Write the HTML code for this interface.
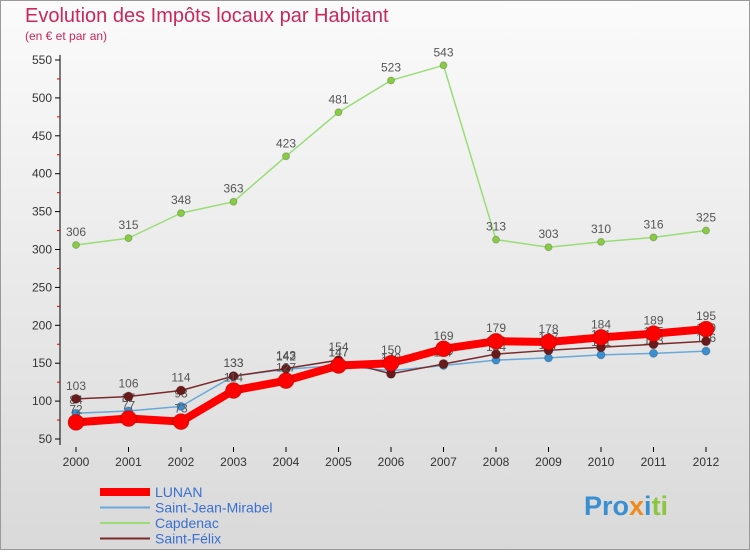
<!DOCTYPE html>
<html><head><meta charset="utf-8"><style>
body{margin:0;width:750px;height:550px;overflow:hidden;font-family:"Liberation Sans",sans-serif}
</style></head><body>
<svg width="750" height="550" xmlns="http://www.w3.org/2000/svg">
<defs><linearGradient id="bg" x1="0" y1="0" x2="0" y2="1"><stop offset="0" stop-color="#fbfbfb"/><stop offset="1" stop-color="#d9d9d9"/></linearGradient></defs>
<rect x="0.5" y="0.5" width="749" height="549" fill="url(#bg)" stroke="#999"/>
<text x="25" y="22" font-size="20" fill="#c8285a">Evolution des Impôts locaux par Habitant</text>
<text x="25" y="40" font-size="12" fill="#c8285a">(en € et par an)</text>
<g id="axes"></g><g id="series"></g><g id="legend"></g>
<text x="584" y="515" font-size="27" font-weight="bold"><tspan fill="#3a8fd0">Pro</tspan><tspan fill="#f08a1c">x</tspan><tspan fill="#3a8fd0">i</tspan><tspan fill="#8cc63f">ti</tspan></text>
</svg>
<script>
const years=[2000,2001,2002,2003,2004,2005,2006,2007,2008,2009,2010,2011,2012];
const yTicks=[50,100,150,200,250,300,350,400,450,500,550];
const lunan=[72,77,73,114,127,147,150,169,179,178,184,189,195];
const sjm=[84,87,93,133,142,147,140,147,154,157,161,163,166];
const capdenac=[306,315,348,363,423,481,523,543,313,303,310,316,325];
const sfelix=[103,106,114,133,143,154,136,149,162,167,171,175,179];
const NS="http://www.w3.org/2000/svg";
const X=i=>76+i*52.5, Y=v=>439-(v-50)*0.758;
function mk(t,a,p){const e=document.createElementNS(NS,t);for(const k in a)e.setAttribute(k,a[k]);p.appendChild(e);return e;}
const ax=document.getElementById('axes');
mk('line',{x1:60,y1:55,x2:60,y2:445,stroke:'#000'},ax);
yTicks.forEach(v=>{const y=Y(v);
mk('line',{x1:55,y1:y,x2:60,y2:y,stroke:'#000'},ax);
if(v<550)mk('line',{x1:57,y1:Y(v+25),x2:60,y2:Y(v+25),stroke:'#d00'},ax);
const t=mk('text',{x:52,y:y+4,'text-anchor':'end','font-size':12,fill:'#333'},ax);t.textContent=v;
});
years.forEach((yr,i)=>{mk('line',{x1:X(i),y1:447,x2:X(i),y2:452,stroke:'#000'},ax);
const t=mk('text',{x:X(i),y:466,'text-anchor':'middle','font-size':12,fill:'#333'},ax);t.textContent=yr;
});
const sg=document.getElementById('series');
const defs=[
{name:'Capdenac',d:capdenac,c:'#99dd77',w:1.5,r:3.5,fc:'#88cc44'},
{name:'Saint-Jean-Mirabel',d:sjm,c:'#6aa8d8',w:1.5,r:4,fc:'#3a8fd0'},
{name:'Saint-Félix',d:sfelix,c:'#7a2a2a',w:1.5,r:4.5,fc:'#6a1a1a'},
{name:'LUNAN',d:lunan,c:'#ff0000',w:8,r:8,fc:'#ff0000'}];
defs.forEach(s=>{const g=mk('g',{},sg);


mk('polyline',{points:s.d.map((v,i)=>X(i)+','+Y(v)).join(' '),fill:'none',stroke:s.c,'stroke-width':s.w,'stroke-linejoin':'round'},g);
s.d.forEach((v,i)=>{const c=mk('circle',{cx:X(i),cy:Y(v),r:s.r,fill:s.fc,stroke:'rgba(0,0,0,0.2)'},g);

const t=mk('text',{x:X(i),y:Y(v)-9,'text-anchor':'middle','font-size':12,fill:'#555'},g);t.textContent=v;
});});
const lg=document.getElementById('legend');
[['LUNAN','#ff0000',8],['Saint-Jean-Mirabel','#6aa8d8',2],['Capdenac','#99dd77',2],['Saint-Félix','#7a2a2a',2]].forEach((l,i)=>{
const y=492+i*15.5;const g=mk('g',{},lg);

mk('line',{x1:100,y1:y,x2:150,y2:y,stroke:l[1],'stroke-width':l[2]},g);
const t=mk('text',{x:155,y:y+5,'font-size':14,fill:'#3a6fd0'},g);t.textContent=l[0];});
</script>
</body></html>
